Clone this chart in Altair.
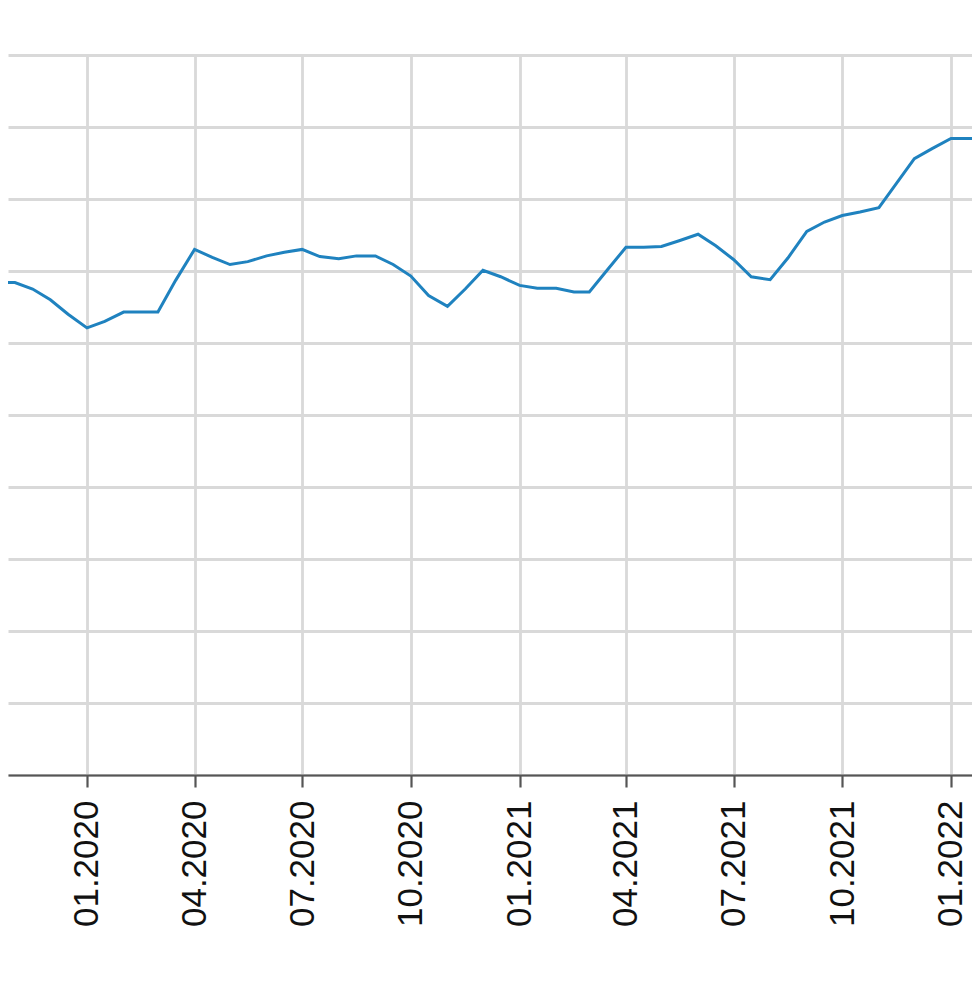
import altair as alt
import pandas as pd

dates = [
    "2019-10-16", "2019-11-01", "2019-11-16", "2019-12-01", "2019-12-16",
    "2020-01-01", "2020-01-16", "2020-02-01", "2020-02-16", "2020-03-01", "2020-03-16",
    "2020-04-01", "2020-04-16", "2020-05-01", "2020-05-16", "2020-06-01", "2020-06-16",
    "2020-07-01", "2020-07-16", "2020-08-01", "2020-08-16", "2020-09-01", "2020-09-16",
    "2020-10-01", "2020-10-16", "2020-11-01", "2020-11-16", "2020-12-01", "2020-12-16",
    "2021-01-01", "2021-01-16", "2021-02-01", "2021-02-16", "2021-03-01", "2021-03-16",
    "2021-04-01", "2021-04-16", "2021-05-01", "2021-05-16", "2021-06-01", "2021-06-16",
    "2021-07-01", "2021-07-16", "2021-08-01", "2021-08-16", "2021-09-01", "2021-09-16",
    "2021-10-01", "2021-10-16", "2021-11-01", "2021-11-16", "2021-12-01", "2021-12-16",
    "2022-01-01", "2022-01-16", "2022-02-01",
]

values = [
    68.4, 68.4, 67.5, 66.0, 64.0,
    62.1, 63.0, 64.3, 64.3, 64.3, 68.7,
    73.0, 71.9, 70.9, 71.3, 72.1, 72.6,
    73.0, 72.0, 71.7, 72.1, 72.1, 70.9,
    69.3, 66.6, 65.1, 67.5, 70.1, 69.2,
    68.0, 67.6, 67.6, 67.1, 67.1, 70.1,
    73.3, 73.3, 73.4, 74.2, 75.1, 73.5,
    71.6, 69.2, 68.8, 71.8, 75.5, 76.8,
    77.7, 78.2, 78.8, 82.2, 85.6, 87.0,
    88.4, 88.4, 88.4,
]

y_ticks = [0, 10, 20, 30, 40, 50, 60, 70, 80, 90, 100]

df = pd.DataFrame({"date": dates, "value": values})

x_domain = [
    alt.DateTime(year=2019, month=10, date=26, hours=4, utc=True),
    alt.DateTime(year=2022, month=1, date=18, hours=18, minutes=30, utc=True),
]

chart = (
    alt.Chart(df)
    .mark_line(color="#1f82bf", strokeWidth=3, clip=True)
    .encode(
        x=alt.X(
            "date:T",
            scale=alt.Scale(type="utc", domain=x_domain, nice=False),
            axis=alt.Axis(
                title=None,
                format="%m.%Y",
                tickCount={"interval": "month", "step": 3},
                labelAngle=-90,
                labelAlign="right",
                labelBaseline="middle",
                labelFontSize=35,
                labelFont="Liberation Sans",
                labelColor="#111111",
                labelPadding=13,
                labelFlush=False,
                labelOverlap=False,
                tickSize=12,
                tickWidth=2.2,
                tickColor="#555555",
                domainColor="#555555",
                domainWidth=2.2,
                grid=True,
                gridColor="#d9d9d9",
                gridWidth=2.8,
            ),
        ),
        y=alt.Y(
            "value:Q",
            scale=alt.Scale(domain=[0, 100], nice=False),
            axis=alt.Axis(
                title=None,
                values=y_ticks,
                labels=False,
                ticks=False,
                domain=False,
                grid=True,
                gridColor="#d9d9d9",
                gridWidth=2.8,
            ),
        ),
    )
    .properties(
        width=964,
        height=720,
        autosize=alt.AutoSizeParams(type="none"),
        padding={"left": 0, "top": 47, "right": 0, "bottom": 170},
        background="white",
    )
    .configure_view(stroke="transparent")
)

chart.save("out.html", embed_options={"renderer": "svg", "actions": False})
